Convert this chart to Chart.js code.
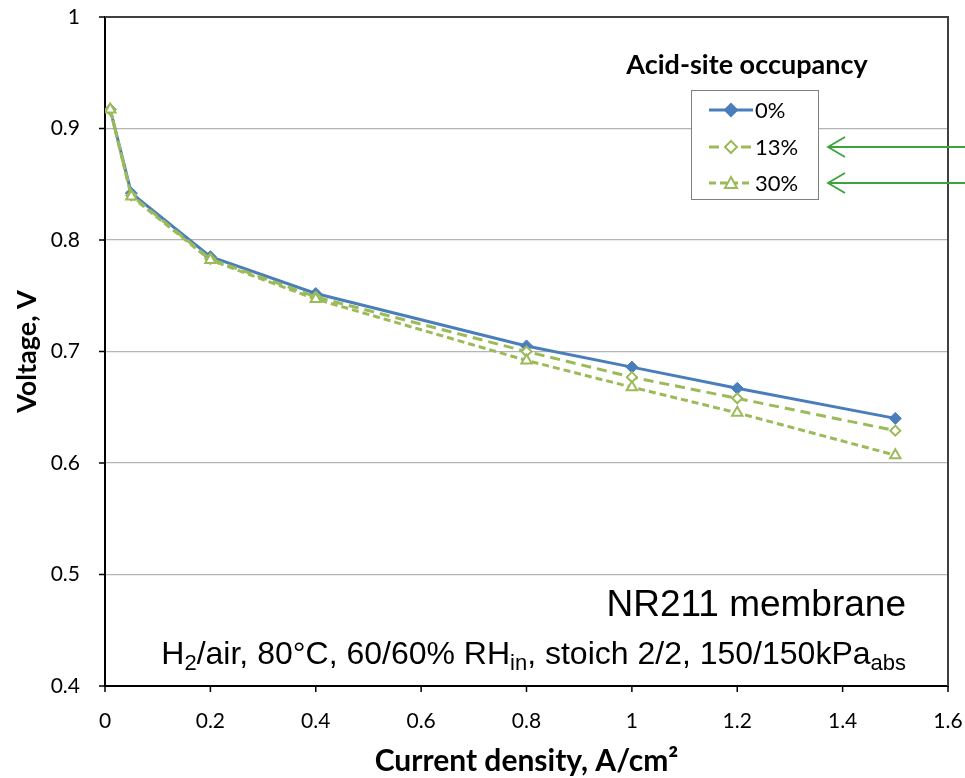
<!DOCTYPE html>
<html>
<head>
<meta charset="utf-8">
<script src="https://cdn.jsdelivr.net/npm/chart.js@4/dist/chart.umd.min.js"></script>
<style>
  body { margin: 0; background: #fff; }
  #wrap { width: 965px; height: 778px; position: relative; }
</style>
</head>
<body>
<div id="wrap"><canvas id="mainChart"></canvas></div>
<script>
// current density, A/cm2
let current = [0.01, 0.05, 0.2, 0.4, 0.8, 1.0, 1.2, 1.5];
// voltage, V, per acid-site occupancy
let v0 = [0.917, 0.842, 0.785, 0.752, 0.705, 0.686, 0.667, 0.640];
let v13 = [0.917, 0.840, 0.783, 0.749, 0.700, 0.677, 0.658, 0.629];
let v30 = [0.917, 0.839, 0.782, 0.747, 0.692, 0.668, 0.645, 0.607];
let seriesLabels = ['0%', '13%', '30%'];
let xTicks = [0, 0.2, 0.4, 0.6, 0.8, 1, 1.2, 1.4, 1.6];
let yTicks = [0.4, 0.5, 0.6, 0.7, 0.8, 0.9, 1];

let blue = '#4a7ebb';
let green = '#9bbb59';
let arrowGreen = '#3aa53a';

function pts(ys) {
    return current.map((x, i) => ({x: x, y: ys[i]}));
}

let extras = {
    id: 'extras',
    afterDraw(chart) {
        let ctx = chart.ctx;
        let a = chart.chartArea;
        let sx = chart.scales.x, sy = chart.scales.y;
        ctx.save();
        // top and right frame
        ctx.strokeStyle = '#404040';
        ctx.lineWidth = 2;
        ctx.beginPath();
        ctx.moveTo(a.left, a.top);
        ctx.lineTo(a.right, a.top);
        ctx.lineTo(a.right, a.bottom);
        ctx.stroke();

        // short outward tick marks (the scale ticks are long and invisible)
        ctx.strokeStyle = '#000';
        ctx.lineWidth = 1.5;
        ctx.beginPath();
        xTicks.forEach(v => {
            let px = sx.getPixelForValue(v);
            ctx.moveTo(px, a.bottom);
            ctx.lineTo(px, a.bottom + 6);
        });
        yTicks.forEach(v => {
            let py = sy.getPixelForValue(v);
            ctx.moveTo(a.left - 6, py);
            ctx.lineTo(a.left, py);
        });
        ctx.stroke();

        // legend title
        ctx.fillStyle = '#000';
        ctx.font = 'bold 27px Lato';
        ctx.textAlign = 'center';
        ctx.textBaseline = 'middle';
        ctx.fillText('Acid-site occupancy', 747, 65);

        // legend box
        ctx.fillStyle = '#fff';
        ctx.fillRect(691, 90, 127, 109);
        ctx.strokeStyle = '#808080';
        ctx.lineWidth = 1;
        ctx.strokeRect(691.5, 90.5, 127, 109);

        let rows = [110, 147, 183];
        chart.data.datasets.forEach((ds, i) => {
            let y = rows[i];
            ctx.strokeStyle = ds.borderColor;
            ctx.lineWidth = ds.borderWidth;
            ctx.setLineDash(ds.borderDash || []);
            ctx.beginPath();
            ctx.moveTo(709, y);
            ctx.lineTo(753, y);
            ctx.stroke();
            ctx.setLineDash([]);
            ctx.lineWidth = 2;
            ctx.fillStyle = ds.pointBackgroundColor;
            ctx.strokeStyle = ds.pointBorderColor;
            ctx.beginPath();
            if (ds.pointStyle === 'triangle') {
                ctx.moveTo(731, y - 6);
                ctx.lineTo(737, y + 5);
                ctx.lineTo(725, y + 5);
            } else {
                ctx.moveTo(731, y - 6);
                ctx.lineTo(737, y);
                ctx.lineTo(731, y + 6);
                ctx.lineTo(725, y);
            }
            ctx.closePath();
            ctx.fill();
            ctx.stroke();
            ctx.fillStyle = '#000';
            ctx.font = '22px Lato';
            ctx.textAlign = 'left';
            ctx.fillText(ds.label, 755, y + 1);
        });

        // arrows pointing to the green series
        ctx.strokeStyle = arrowGreen;
        ctx.lineWidth = 1.8;
        [147, 183].forEach(y => {
            ctx.beginPath();
            ctx.moveTo(965, y);
            ctx.lineTo(828, y);
            ctx.moveTo(845, y - 10);
            ctx.lineTo(828, y);
            ctx.lineTo(845, y + 10);
            ctx.stroke();
        });

        // annotation text
        ctx.fillStyle = '#000';
        ctx.textAlign = 'right';
        ctx.textBaseline = 'alphabetic';
        ctx.font = '37px "Liberation Sans"';
        ctx.fillText('NR211 membrane', 906, 616);

        // conditions line with subscripts, drawn right-to-left
        let parts = [
            ['H', 0], ['2', 1], ['/air, 80°C, 60/60% RH', 0], ['in', 1],
            [', stoich 2/2, 150/150kPa', 0], ['abs', 1]
        ];
        let big = '32px "Liberation Sans"';
        let small = '22px "Liberation Sans"';
        let x = 906;
        let base = 664;
        for (let i = parts.length - 1; i >= 0; i--) {
            let [t, sub] = parts[i];
            ctx.font = sub ? small : big;
            ctx.fillText(t, x, sub ? base + 6 : base);
            x -= ctx.measureText(t).width;
        }
        ctx.restore();
    }
};

let mainChartConfig = {
    type: 'line',
    data: {
        datasets: [{
            label: seriesLabels[0],
            data: pts(v0),
            borderColor: blue,
            borderWidth: 3,
            pointStyle: 'rectRot',
            pointRadius: 6,
            pointBackgroundColor: blue,
            pointBorderColor: blue,
            pointBorderWidth: 1,
            order: 3
        }, {
            label: seriesLabels[1],
            data: pts(v13),
            borderColor: green,
            borderWidth: 3,
            borderDash: [10, 6],
            pointStyle: 'rectRot',
            pointRadius: 5,
            pointBackgroundColor: '#fff',
            pointBorderColor: green,
            pointBorderWidth: 2,
            order: 2
        }, {
            label: seriesLabels[2],
            data: pts(v30),
            borderColor: green,
            borderWidth: 3,
            borderDash: [7, 4],
            pointStyle: 'triangle',
            pointRadius: 6,
            pointBackgroundColor: '#fff',
            pointBorderColor: green,
            pointBorderWidth: 2,
            order: 1
        }]
    },
    options: {
        responsive: true,
        maintainAspectRatio: false,
        animation: false,
        layout: { padding: { top: 17, right: 17, left: 0, bottom: 0 } },
        plugins: { legend: { display: false }, tooltip: { enabled: false } },
        elements: { line: { tension: 0 } },
        scales: {
            x: {
                type: 'linear',
                min: 0,
                max: 1.6,
                afterBuildTicks: s => { s.ticks = xTicks.map(v => ({value: v})); },
                afterFit: s => { s.height = 92; },
                ticks: {
                    color: '#000',
                    font: { family: 'Lato', size: 21 },
                    padding: 0,
                    maxRotation: 0,
                    callback: v => String(Number(v.toFixed(1)))
                },
                grid: { drawOnChartArea: false, tickLength: 23, tickColor: 'rgba(0,0,0,0)' },
                border: { color: '#000', width: 2 },
                title: {
                    display: true,
                    text: 'Current density, A/cm²',
                    color: '#000',
                    font: { family: 'Lato', size: 30, weight: 'bold', lineHeight: 1.1 },
                    padding: { top: 0, bottom: 0 }
                }
            },
            y: {
                type: 'linear',
                min: 0.4,
                max: 1,
                afterBuildTicks: s => { s.ticks = yTicks.map(v => ({value: v})); },
                afterFit: s => { s.width = 105; },
                ticks: {
                    color: '#000',
                    font: { family: 'Lato', size: 21 },
                    padding: 2,
                    callback: v => String(Number(v.toFixed(1)))
                },
                grid: { color: '#b4b4b4', lineWidth: 1.2, tickLength: 23, tickColor: 'rgba(0,0,0,0)' },
                border: { color: '#000', width: 2 },
                title: {
                    display: true,
                    text: 'Voltage, V',
                    color: '#000',
                    font: { family: 'Lato', size: 27, weight: 'bold', lineHeight: 1.2 },
                    padding: { top: 11, bottom: 0 }
                }
            }
        }
    },
    plugins: [extras]
};

window.onload = function() {
    let ctx = document.getElementById('mainChart').getContext('2d');
    window.myLine = new Chart(ctx, mainChartConfig);
};
</script>
</body>
</html>
